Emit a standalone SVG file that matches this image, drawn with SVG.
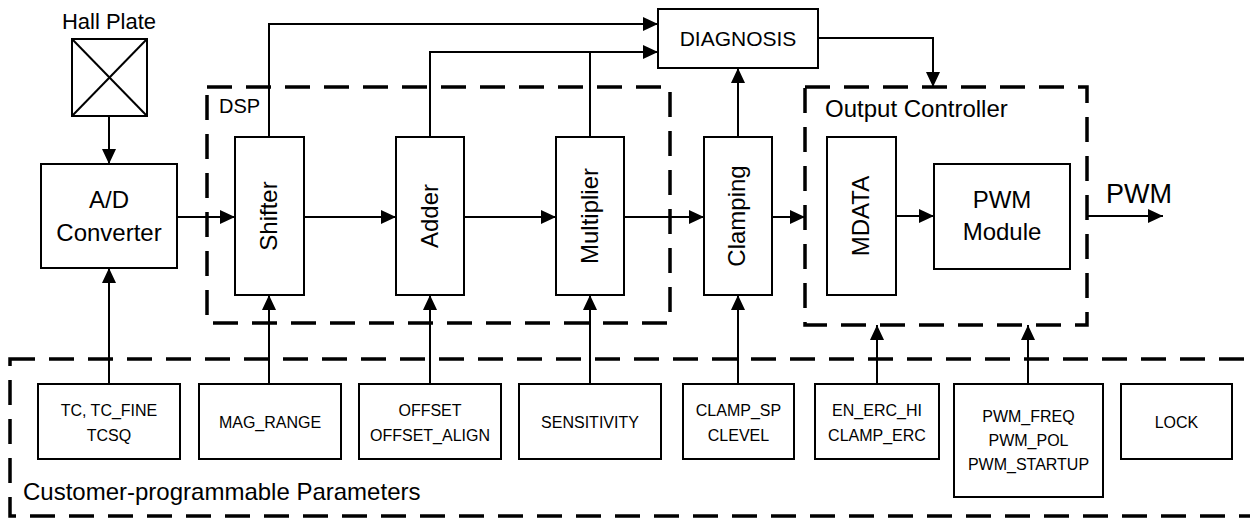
<svg xmlns="http://www.w3.org/2000/svg" width="1250" height="518" viewBox="0 0 1250 518">
<style>
  .box{fill:#fff;stroke:#000;stroke-width:2}
  .dash{fill:none;stroke:#000;stroke-width:3.5;stroke-dasharray:25 14}
  .ln{fill:none;stroke:#000;stroke-width:2}
  text{font-family:"Liberation Sans",Arial,sans-serif;fill:#000}
  .t24{font-size:24px}
  .t21{font-size:21px}
  .t20{font-size:20px}
  .t16{font-size:16px}
  .mid{text-anchor:middle}
</style>
<defs>
  <marker id="arr" markerUnits="userSpaceOnUse" markerWidth="16" markerHeight="15" refX="15" refY="7" orient="auto">
    <path d="M0,0 L15,7 L0,14 z" fill="#000"/>
  </marker>
</defs>
<rect width="1250" height="518" fill="#fff"/>

<!-- group containers -->
<g id="dsp-group">
  <rect class="dash" x="207" y="87" width="463" height="236"/>
  <text class="t20" x="219" y="113">DSP</text>
</g>
<g id="output-controller-group">
  <rect class="dash" x="805" y="87" width="282" height="238"/>
  <text class="t24" x="825" y="117">Output Controller</text>
</g>
<g id="parameters-group">
  <rect class="dash" x="10" y="359" width="1270" height="157"/>
  <text class="t24" x="23" y="500">Customer-programmable Parameters</text>
</g>

<!-- connectors -->
<g id="connectors">
  <line class="ln" x1="109" y1="116" x2="109" y2="164" marker-end="url(#arr)"/>
  <line class="ln" x1="177" y1="217" x2="235" y2="217" marker-end="url(#arr)"/>
  <line class="ln" x1="304" y1="217" x2="396" y2="217" marker-end="url(#arr)"/>
  <line class="ln" x1="464" y1="217" x2="556" y2="217" marker-end="url(#arr)"/>
  <line class="ln" x1="624" y1="217" x2="704" y2="217" marker-end="url(#arr)"/>
  <line class="ln" x1="772" y1="217" x2="805" y2="217" marker-end="url(#arr)"/>
  <line class="ln" x1="896" y1="216" x2="934" y2="216" marker-end="url(#arr)"/>
  <line class="ln" x1="1087" y1="216" x2="1163" y2="216" marker-end="url(#arr)"/>
  <polyline class="ln" points="269,137 269,24 658,24" marker-end="url(#arr)"/>
  <polyline class="ln" points="430,137 430,52 658,52" marker-end="url(#arr)"/>
  <line class="ln" x1="590" y1="137" x2="590" y2="52"/>
  <line class="ln" x1="738" y1="137" x2="738" y2="68" marker-end="url(#arr)"/>
  <polyline class="ln" points="818,38 933,38 933,87" marker-end="url(#arr)"/>
  <line class="ln" x1="109" y1="384" x2="109" y2="268" marker-end="url(#arr)"/>
  <line class="ln" x1="269" y1="384" x2="269" y2="295" marker-end="url(#arr)"/>
  <line class="ln" x1="430" y1="384" x2="430" y2="295" marker-end="url(#arr)"/>
  <line class="ln" x1="590" y1="384" x2="590" y2="295" marker-end="url(#arr)"/>
  <line class="ln" x1="738" y1="384" x2="738" y2="295" marker-end="url(#arr)"/>
  <line class="ln" x1="877" y1="384" x2="877" y2="325" marker-end="url(#arr)"/>
  <line class="ln" x1="1028" y1="384" x2="1028" y2="325" marker-end="url(#arr)"/>
</g>

<!-- nodes -->
<g id="hall-plate">
  <text class="mid" x="109" y="29" style="font-size:22px">Hall Plate</text>
  <rect class="box" x="72" y="39" width="75" height="77"/>
  <line class="ln" x1="72" y1="39" x2="147" y2="116"/>
  <line class="ln" x1="147" y1="39" x2="72" y2="116"/>
</g>
<g id="ad-converter">
  <rect class="box" x="41" y="164" width="136" height="104"/>
  <text class="t24 mid" x="109" y="208">A/D</text>
  <text class="t24 mid" x="109" y="241">Converter</text>
</g>
<g id="shifter">
  <rect class="box" x="235" y="137" width="69" height="158"/>
  <text class="t24 mid" x="277" y="216" transform="rotate(-90 277 216)">Shifter</text>
</g>
<g id="adder">
  <rect class="box" x="396" y="137" width="68" height="158"/>
  <text class="t24 mid" x="438" y="216" transform="rotate(-90 438 216)">Adder</text>
</g>
<g id="multiplier">
  <rect class="box" x="556" y="137" width="68" height="158"/>
  <text class="t24 mid" x="598" y="216" transform="rotate(-90 598 216)">Multiplier</text>
</g>
<g id="clamping">
  <rect class="box" x="704" y="137" width="68" height="158"/>
  <text class="t24 mid" x="745" y="216" transform="rotate(-90 745 216)">Clamping</text>
</g>
<g id="diagnosis">
  <rect class="box" x="658" y="9" width="160" height="59"/>
  <text class="t21 mid" x="738" y="46">DIAGNOSIS</text>
</g>
<g id="mdata">
  <rect class="box" x="827" y="137" width="69" height="158"/>
  <text class="t24 mid" x="869" y="216" transform="rotate(-90 869 216)">MDATA</text>
</g>
<g id="pwm-module">
  <rect class="box" x="934" y="164" width="136" height="105"/>
  <text class="t24 mid" x="1002" y="208">PWM</text>
  <text class="t24 mid" x="1002" y="240">Module</text>
</g>
<g id="pwm-output">
  <text class="mid" x="1139" y="203" style="font-size:27px">PWM</text>
</g>

<g id="p-tc">
  <rect class="box" x="38" y="384" width="142" height="75"/>
  <text class="t16 mid" x="109" y="416">TC, TC_FINE</text>
  <text class="t16 mid" x="109" y="441">TCSQ</text>
</g>
<g id="p-mag">
  <rect class="box" x="199" y="384" width="142" height="75"/>
  <text class="t16 mid" x="270" y="428">MAG_RANGE</text>
</g>
<g id="p-offset">
  <rect class="box" x="359" y="384" width="142" height="75"/>
  <text class="t16 mid" x="430" y="416">OFFSET</text>
  <text class="t16 mid" x="430" y="441">OFFSET_ALIGN</text>
</g>
<g id="p-sens">
  <rect class="box" x="519" y="384" width="142" height="75"/>
  <text class="t16 mid" x="590" y="428">SENSITIVITY</text>
</g>
<g id="p-clamp">
  <rect class="box" x="683" y="384" width="111" height="75"/>
  <text class="t16 mid" x="738.5" y="416">CLAMP_SP</text>
  <text class="t16 mid" x="738.5" y="441">CLEVEL</text>
</g>
<g id="p-erc">
  <rect class="box" x="815" y="384" width="124" height="75"/>
  <text class="t16 mid" x="877" y="416">EN_ERC_HI</text>
  <text class="t16 mid" x="877" y="441">CLAMP_ERC</text>
</g>
<g id="p-pwm">
  <rect class="box" x="954" y="384" width="149" height="113"/>
  <text class="t16 mid" x="1028.5" y="422">PWM_FREQ</text>
  <text class="t16 mid" x="1028.5" y="446">PWM_POL</text>
  <text class="t16 mid" x="1028.5" y="470">PWM_STARTUP</text>
</g>
<g id="p-lock">
  <rect class="box" x="1121" y="384" width="111" height="75"/>
  <text class="t16 mid" x="1176.5" y="428">LOCK</text>
</g>
</svg>
